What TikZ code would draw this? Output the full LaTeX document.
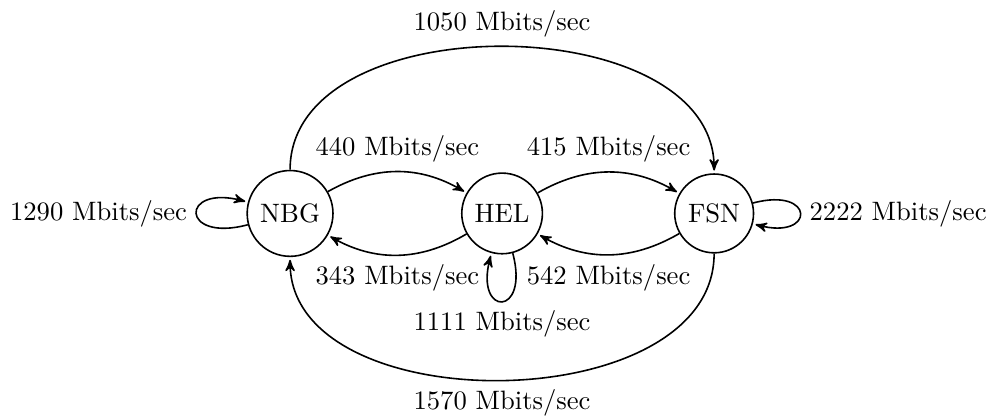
\documentclass[tikz,border=0pt]{standalone}
\usetikzlibrary{arrows,automata,calc}
\begin{document}
\begin{tikzpicture}[->,>=stealth',shorten >=1pt,auto,node distance=2.8cm,semithick]
  \node[state] (NBG) {NBG};
  \node[state] (HEL) [right of=NBG] {HEL};
  \node[state] (FSN) [right of=HEL] {FSN};
  \useasboundingbox ($(NBG)+(-109pt,-77.3pt)$) rectangle ($(NBG)+(263pt,80.2pt)$);

  \path (NBG) edge [bend left] node {440 Mbits/sec} (HEL)
              edge [loop left] node {1290 Mbits/sec} ()
              edge [out=90,in=90] node {1050 Mbits/sec} (FSN)
        (HEL) edge [bend left] node {343 Mbits/sec} (NBG)
              edge [bend left] node {415 Mbits/sec} (FSN)
              edge [loop below] node {1111 Mbits/sec} ()
        (FSN) edge [bend left] node {542 Mbits/sec} (HEL)
              edge [loop right] node {2222 Mbits/sec} ()
              edge [out=-90,in=-90] node {1570 Mbits/sec} (NBG);
\end{tikzpicture}
\end{document}
